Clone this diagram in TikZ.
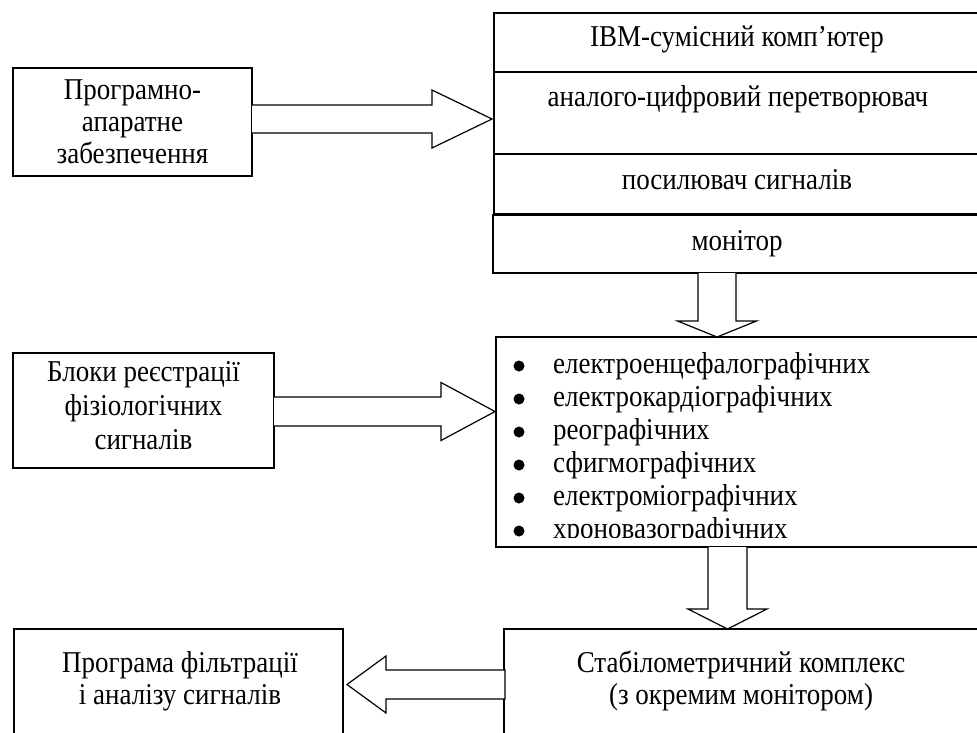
\documentclass[tikz,border=0pt]{standalone}
\usepackage{fontspec}
\setmainfont{Liberation Serif}
\usetikzlibrary{calc}
\newcommand\tl[1]{\scalebox{1}[1.12]{#1}}
\begin{document}
\begin{tikzpicture}[x=1pt,y=-1pt,
  box/.style={draw,line width=1.2pt,inner sep=0pt,outer sep=0pt},
  barrow/.style={draw,line width=1.2pt,fill=white,line join=miter},
  txt/.style={font=\fontsize{27}{32.5}\selectfont,inner sep=0pt,anchor=base},
  bul/.style={circle,fill=black,inner sep=0pt,minimum size=11pt},
  ]
\useasboundingbox (0,0) rectangle (977,732);
\clip (0,0) rectangle (977,732);
% boxes
\node[box,minimum width=239,minimum height=108] (prog) at (132.5,122) {};
\node[txt] (p1) at (132.5,99.5) {\tl{Програмно-}};
\node[txt] (p2) at (132.5,131.5) {\tl{апаратне}};
\node[txt] (p3) at (132.5,163.5) {\tl{забезпечення}};
\node[box,minimum width=491,minimum height=201] (pc) at (739.5,113.5) {};
\draw[line width=1.2pt] (pc.west |- 0,72) -- (pc.east |- 0,72);
\draw[line width=1.2pt] (pc.west |- 0,154) -- (pc.east |- 0,154);
\node[txt] (ibm) at (737,46) {\tl{IBM-сумісний комп’ютер}};
\node[txt] (adc) at (738,106) {\tl{аналого-цифровий перетворювач}};
\node[txt] (amp) at (737,189) {\tl{посилювач сигналів}};
\node[box,minimum width=492,minimum height=58] (mon) at (739,244) {};
\node[txt] (mont) at (737,250) {\tl{монітор}};
\node[box,minimum width=261,minimum height=115] (blk) at (143.5,410.5) {};
\node[txt] (k1) at (143.5,381) {\tl{Блоки реєстрації}};
\node[txt] (k2) at (143.5,415) {\tl{фізіологічних}};
\node[txt] (k3) at (143.5,449) {\tl{сигналів}};
\node[box,minimum width=489,minimum height=210] (lst) at (740.5,442) {};
\begin{scope}
\clip (497,338) rectangle (984,537);
\foreach \t [count=\i from 0] in {електроенцефалографічних,електрокардіографічних,реографічних,сфигмографічних,електроміографічних,хроновазографічних}{
  \node[bul] (b\i) at (519,366+33*\i) {};
  \node[txt,anchor=base west] (l\i) at (553,373+33*\i) {\tl{\t}};
}
\end{scope}
\node[box,minimum width=329,minimum height=131] (flt) at (178.5,694.5) {};
\node[txt] (f1) at (180,672.5) {\tl{Програма фільтрації}};
\node[txt] (f2) at (180,704.5) {\tl{і аналізу сигналів}};
\node[box,minimum width=481,minimum height=131] (stab) at (744.5,694.5) {};
\node[txt] (s1) at (741,672.5) {\tl{Стабілометричний комплекс}};
\node[txt] (s2) at (741,704.5) {\tl{(з окремим монітором)}};
% block arrows
\coordinate (a1s) at (prog.east |- 0,119);
\coordinate (a1e) at ($(pc.west |- 0,119)+(-2,0)$);
\draw[barrow] ($(a1s)+(0,-14)$) -- ($(a1e)+(-60,-14)$) -- ($(a1e)+(-60,-29)$) -- (a1e) -- ($(a1e)+(-60,29)$) -- ($(a1e)+(-60,14)$) -- ($(a1s)+(0,14)$);
\coordinate (a2s) at (blk.east |- 0,411.5);
\coordinate (a2e) at ($(lst.west |- 0,411.5)+(-1,0)$);
\draw[barrow] ($(a2s)+(0,-14.5)$) -- ($(a2e)+(-54,-14.5)$) -- ($(a2e)+(-54,-29)$) -- (a2e) -- ($(a2e)+(-54,29)$) -- ($(a2e)+(-54,14.5)$) -- ($(a2s)+(0,14.5)$);
\coordinate (d1s) at (mon.south -| 717,0);
\coordinate (d1e) at (lst.north -| 717,0);
\draw[barrow] ($(d1s)+(-19,0)$) -- ($(d1e)+(-19,-16)$) -- ($(d1e)+(-39.5,-16)$) -- (d1e) -- ($(d1e)+(39.5,-16)$) -- ($(d1e)+(19,-16)$) -- ($(d1s)+(19,0)$);
\coordinate (d2s) at (lst.south -| 727.5,0);
\coordinate (d2e) at (stab.north -| 727.5,0);
\draw[barrow] ($(d2s)+(-19.5,0)$) -- ($(d2e)+(-19.5,-20)$) -- ($(d2e)+(-39.5,-20)$) -- (d2e) -- ($(d2e)+(39.5,-20)$) -- ($(d2e)+(19.5,-20)$) -- ($(d2s)+(19.5,0)$);
\coordinate (l1s) at ($(stab.west |- 0,684.5)+(1,0)$);
\coordinate (l1e) at ($(flt.east |- 0,684.5)+(4,0)$);
\draw[barrow] ($(l1s)+(0,-14.5)$) -- ($(l1e)+(39,-14.5)$) -- ($(l1e)+(39,-28.5)$) -- (l1e) -- ($(l1e)+(39,28.5)$) -- ($(l1e)+(39,14.5)$) -- ($(l1s)+(0,14.5)$) -- cycle;
\end{tikzpicture}
\end{document}
